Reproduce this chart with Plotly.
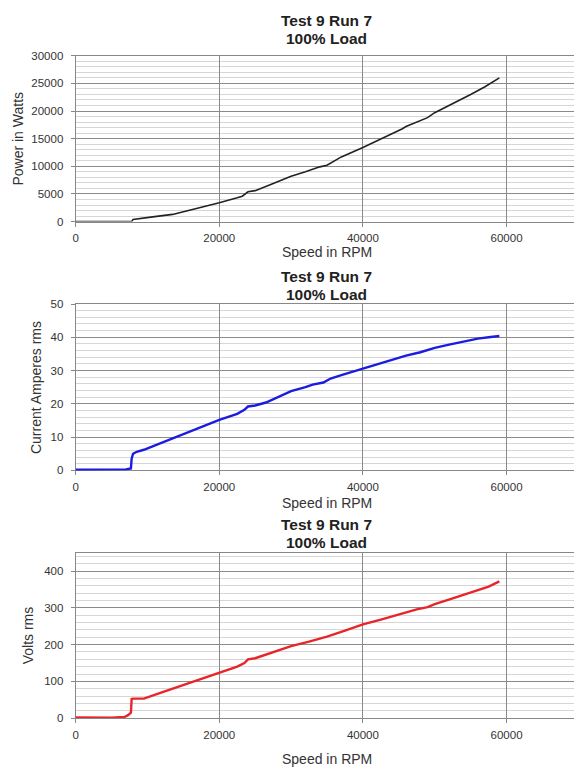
import plotly.graph_objects as go

W, H = 574, 774

# ---- data ----
speed_p = [0, 4000, 7800, 8000, 9000, 11000, 13500, 16000, 18000, 20000, 22500, 23200,
           24000, 25000, 27000, 30000, 32000, 34000, 35000, 37000, 40000, 43000, 45500,
           46000, 47000, 49000, 50000, 52000, 55000, 57000, 58500, 59000]
power = [0, 0, 0, 400, 600, 900, 1300, 2100, 2700, 3400, 4300, 4600,
         5400, 5600, 6600, 8200, 9000, 9900, 10200, 11700, 13400, 15200, 16800,
         17200, 17700, 18800, 19700, 21000, 23000, 24400, 25500, 26000]

speed_c = [0, 5000, 7000, 7700, 7800, 8000, 8500, 9500, 12000, 15000, 17500, 20000,
           22500, 23500, 24000, 25000, 26500, 28000, 30000, 32000, 33000, 34500, 35500,
           37000, 40000, 43000, 46000, 48000, 50000, 52000, 54000, 56000, 57500, 59000]
current = [0.2, 0.2, 0.3, 0.6, 3.5, 5.0, 5.6, 6.2, 8.4, 11.0, 13.2, 15.2,
           17.0, 18.2, 19.2, 19.5, 20.4, 21.8, 23.8, 25.0, 25.8, 26.4, 27.6,
           28.6, 30.6, 32.6, 34.5, 35.5, 36.8, 37.8, 38.7, 39.6, 40.0, 40.4]

speed_v = [0, 1000, 2000, 3500, 5000, 6800, 7300, 7700, 7800, 8000, 9500, 12000, 15000,
           17500, 20000, 22500, 23500, 24000, 25000, 27500, 30000, 32500, 33500, 35000,
           37500, 40000, 42500, 45000, 47500, 49000, 50000, 52500, 55000, 57500, 59000]
volts = [2, 2, 1, 0, 1, 3, 8, 15, 52, 53, 53, 70, 90,
         107, 125, 140, 150, 160, 163, 180, 196, 208, 213, 222,
         238, 255, 268, 283, 296, 302, 310, 326, 342, 358, 372]

title_lines = ["Test 9 Run 7", "100% Load"]
x_title = "Speed in RPM"
y_titles = ["Power in Watts", "Current Amperes rms", "Volts rms"]
x_ticks = [0, 20000, 40000, 60000]

# ---- layout helpers (pixel geometry) ----
def py(p):
    return 1 - p / H

def px(p):
    return p / W

panels = [
    dict(x=speed_p, y=power, color="#222222", width=1.6, top=50.5, bot=219,
         yrange=[0, 30000], dtick=5000, minor=1000,
         t1=15, t2=33, xt=250, ytx=15),
    dict(x=speed_c, y=current, color="#1c1ce0", width=2.4, top=302.7, bot=471.7,
         yrange=[0, 50], dtick=10, minor=2,
         t1=275, t2=293, xt=505, ytx=33),
    dict(x=speed_v, y=volts, color="#e8262a", width=2.4, top=555.4, bot=723.3,
         yrange=[0, 450], dtick=100, minor=20,
         t1=527, t2=545, xt=765, ytx=26),
]

x_left = 73
x_max = (W - x_left) / 144.4 * 20000

fig = go.Figure()
layout = dict(width=W, height=H, margin=dict(l=0, r=0, t=0, b=0),
              paper_bgcolor="white", plot_bgcolor="white", showlegend=False,
              font=dict(family="Liberation Sans, Arial, sans-serif", color="#222222"))
annotations = []
tfont = dict(family="Liberation Sans, Arial, sans-serif", size=11.5, color="#333333")

for i, p in enumerate(panels):
    n = "" if i == 0 else str(i + 1)
    fig.add_trace(go.Scatter(x=p["x"], y=p["y"], mode="lines", cliponaxis=False,
                             line=dict(color=p["color"], width=p["width"]),
                             xaxis="x" + n, yaxis="y" + n, hoverinfo="skip"))
    layout["xaxis" + n] = dict(
        domain=[px(x_left), 1], range=[0, x_max], anchor="y" + n,
        tickvals=x_ticks, tickformat="d", ticks="outside", ticklen=4, tickcolor="#888888",
        showline=True, linecolor="#888888", linewidth=1, mirror=True,
        showgrid=True, gridcolor="#8a8a8a", gridwidth=1, zeroline=False,
        tickfont=tfont, ticklabelstandoff=2, layer="below traces")
    layout["yaxis" + n] = dict(
        domain=[py(p["bot"]), py(p["top"])], range=p["yrange"], anchor="x" + n,
        dtick=p["dtick"], tick0=0, tickformat="d", ticks="outside", ticklen=4,
        tickcolor="#888888",
        showline=True, linecolor="#888888", linewidth=1,
        showgrid=True, gridcolor="#8a8a8a", gridwidth=1.3, zeroline=False,
        minor=dict(dtick=p["minor"], showgrid=True, gridcolor="#d6d6d6", gridwidth=1),
        tickfont=tfont, ticklabelstandoff=5, layer="below traces")
    cx = px((x_left + x_left + 144.4 * 3.5) / 2)
    for t, yy in zip(title_lines, [p["t1"], p["t2"]]):
        annotations.append(dict(text="<b>" + t + "</b>", x=cx, y=py(yy), xref="paper",
                                yref="paper", showarrow=False, xanchor="center",
                                yanchor="middle",
                                font=dict(size=15.5, color="#222222",
                                          family="Liberation Sans, Arial, sans-serif")))
    annotations.append(dict(text=x_title, x=cx, y=py(p["xt"]), xref="paper", yref="paper",
                            showarrow=False, xanchor="center", yanchor="middle",
                            font=dict(size=14, color="#333333",
                                      family="Liberation Sans, Arial, sans-serif")))
    annotations.append(dict(text=y_titles[i], x=px(p["ytx"]), y=py((p["top"] + p["bot"]) / 2),
                            xref="paper", yref="paper", showarrow=False, textangle=-90,
                            xanchor="center", yanchor="middle",
                            font=dict(size=14, color="#333333",
                                      family="Liberation Sans, Arial, sans-serif")))

layout["annotations"] = annotations
fig.update_layout(**layout)
fig.write_html("out.html")
